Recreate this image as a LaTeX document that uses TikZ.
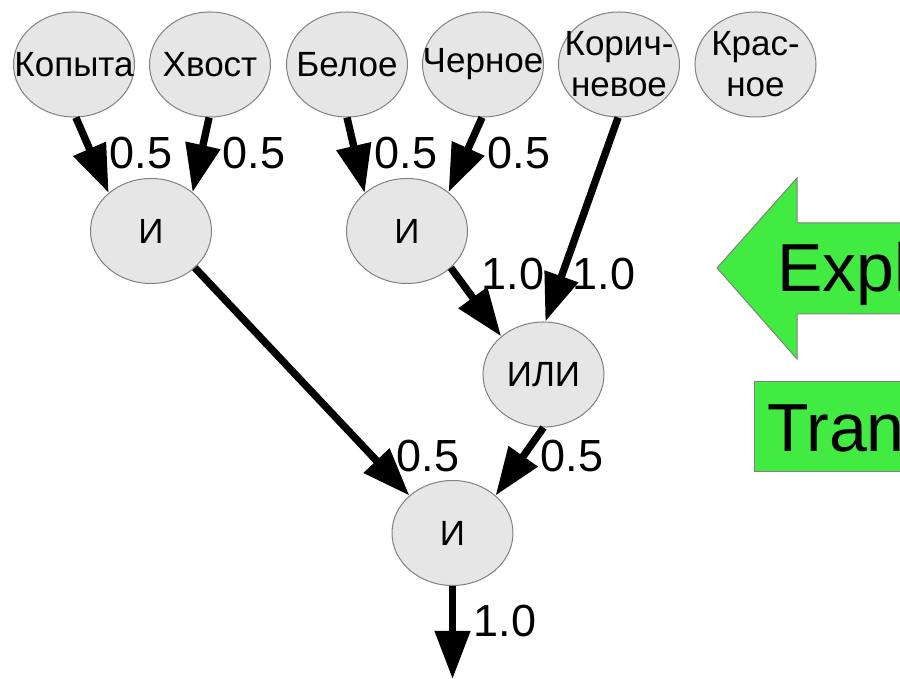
\documentclass[tikz,border=0pt]{standalone}
\usepackage{fontspec}
\setmainfont{Liberation Sans}
\usepackage{tikz}
\usetikzlibrary{shapes.geometric, arrows.meta}
\definecolor{nodegray}{RGB}{230,230,230}
\definecolor{arrgreen}{RGB}{66,235,66}

\begin{document}
\begin{tikzpicture}[x=50pt,y=50pt,
	vertex/.style={ellipse,draw=gray,line width=0.5pt,fill=nodegray,minimum width=60.5pt,minimum height=52.5pt,inner sep=0pt},
	txt/.style={font=\fontsize{17.5}{20.5}\selectfont,align=center,inner sep=0pt},
	edge/.style={line width=3.7pt,-{Triangle[length=24pt,width=17pt]}},
	wt/.style={font=\fontsize{22.5}{26}\selectfont,inner sep=0pt}]
\useasboundingbox (0,0) rectangle (9,6.79);
\clip (0,0) rectangle (9,6.79);
	\node[vertex,label={[txt]center:Копыта}] (kopyta) at (0.74,6.145) {};
	\node[vertex,label={[txt]center:Хвост}] (hvost) at (2.10,6.145) {};
	\node[vertex,label={[txt]center:Белое}] (beloe) at (3.47,6.145) {};
	\node[vertex,label={[txt]center:Черное}] (chernoe) at (4.83,6.145) {};
	\node[vertex,label={[txt]center:{Корич-\\невое}}] (korich) at (6.19,6.145) {};
	\node[vertex,label={[txt]center:{Крас-\\ное}}] (kras) at (7.555,6.145) {};
	\node[vertex,label={[txt]center:И}] (andL) at (1.51,4.48) {};
	\node[vertex,label={[txt]center:И}] (andM) at (4.07,4.48) {};
	\node[vertex,label={[txt]center:ИЛИ}] (orN) at (5.435,3.045) {};
	\node[vertex,label={[txt]center:И}] (andB) at (4.525,1.46) {};
	\coordinate (out) at (4.525,0);
	\draw[edge] (kopyta.-88) -- (andL.138);
	\draw[edge] (hvost.-91) -- (andL.43);
	\draw[edge] (beloe.-90) -- (andM.138);
	\draw[edge] (chernoe.-91) -- (andM.43);
	\draw[edge] (korich.-91) -- (orN.88);
	\draw[edge] (andM.-40) -- (orN.138);
	\draw[edge] (andL.-40) -- (andB.139);
	\draw[edge] (orN.-90) -- (andB.41);
	\draw[edge] (andB.-90) -- (out);
	\node[wt] (w1) at (1.41,5.26) {0.5};
	\node[wt] (w2) at (2.54,5.26) {0.5};
	\node[wt] (w3) at (4.06,5.26) {0.5};
	\node[wt] (w4) at (5.19,5.26) {0.5};
	\node[wt] (w5) at (5.13,4.05) {1.0};
	\node[wt] (w6) at (6.04,4.05) {1.0};
	\node[wt] (w7) at (4.28,2.23) {0.5};
	\node[wt] (w8) at (5.72,2.23) {0.5};
	\node[wt] (w9) at (5.05,0.58) {1.0};
	\draw[draw=gray,line width=0.5pt,fill=arrgreen] (7.17,4.11) -- (7.97,5.01) -- (7.97,4.56) -- (9.2,4.56) -- (9.2,3.65) -- (7.97,3.65) -- (7.97,3.20) -- cycle;
	\draw[draw=gray,line width=0.5pt,fill=arrgreen] (7.54,2.07) rectangle (9.2,2.97);
	\node[font=\fontsize{34}{40}\selectfont,anchor=base west,inner sep=0pt] (expl) at (7.77,3.87) {Expl};
	\node[font=\fontsize{34}{40}\selectfont,anchor=base west,inner sep=0pt] (tran) at (7.67,2.27) {Tran};
\end{tikzpicture}
\end{document}
